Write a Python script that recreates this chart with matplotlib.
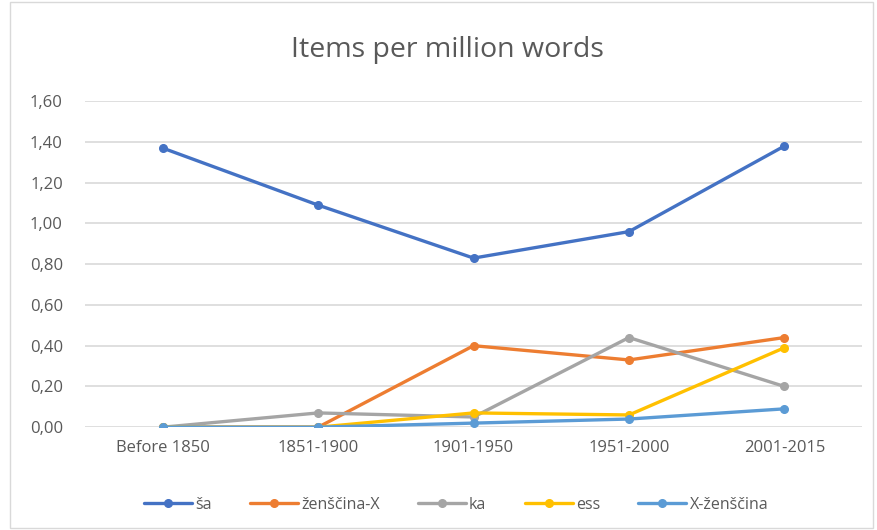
import matplotlib
matplotlib.use('Agg')
import matplotlib.pyplot as plt
from matplotlib.patches import Rectangle
from matplotlib.ticker import FuncFormatter

plt.rcParams['font.family'] = ['Open Sans', 'DejaVu Sans']

# data
periods = ['Before 1850', '1851-1900', '1901-1950', '1951-2000', '2001-2015']
sa = [1.37, 1.09, 0.83, 0.96, 1.38]
zenscina_x = [0.0, 0.0, 0.40, 0.33, 0.44]
ka = [0.0, 0.07, 0.05, 0.44, 0.20]
ess = [0.0, 0.0, 0.07, 0.06, 0.39]
x_zenscina = [0.0, 0.0, 0.02, 0.04, 0.09]

series = [
    ('ša', sa, '#4472C4'),
    ('ženščina-X', zenscina_x, '#ED7D31'),
    ('ka', ka, '#A5A5A5'),
    ('ess', ess, '#FFC000'),
    ('X-ženščina', x_zenscina, '#5B9BD5'),
]

fig = plt.figure(figsize=(8.77, 5.30), dpi=100)
ax = fig.add_axes([0.097, 0.194, 0.886, 0.615])

xs = range(len(periods))
for name, vals, col in series:
    ax.plot(xs, vals, color=col, linewidth=2.4, marker='o', markersize=5.5,
            label=name, solid_capstyle='round')

ax.set_xlim(-0.5, len(periods) - 0.5)
ax.set_ylim(0, 1.6)
ax.set_yticks([i * 0.2 for i in range(9)])
ax.yaxis.set_major_formatter(FuncFormatter(lambda v, p: f'{v:.2f}'.replace('.', ',')))
ax.set_xticks(list(xs))
ax.set_xticklabels(periods)
ax.tick_params(axis='both', length=0, labelsize=12, labelcolor='#595959')
ax.tick_params(axis='y', pad=16)
ax.tick_params(axis='x', pad=9)
ax.grid(axis='y', color='#D9D9D9', linewidth=1.2)
ax.set_axisbelow(True)
for s in ax.spines.values():
    s.set_visible(False)

fig.text(0.51, 0.905, 'Items per million words', ha='center', va='center',
         fontsize=20.5, color='#595959')

fig.legend(loc='center', bbox_to_anchor=(0.52, 0.047), ncol=5, frameon=False,
           fontsize=11.5, labelcolor='#595959', handlelength=3.0,
           handletextpad=0.2, columnspacing=2.4)

fig.patches.append(Rectangle((0.011, 0.003), 0.985, 0.994, transform=fig.transFigure,
                             fill=False, edgecolor='#D9D9D9', linewidth=1))

plt.savefig('out.png', dpi=100)
